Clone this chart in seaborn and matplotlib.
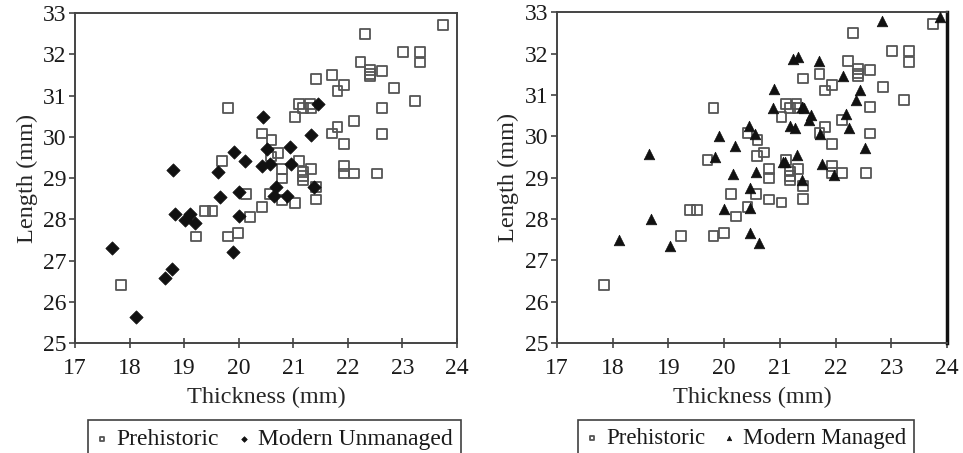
import numpy as np
import pandas as pd
import matplotlib
matplotlib.use("Agg")
import matplotlib.pyplot as plt
import seaborn as sns

# prehistoric samples (same in both panels)
pre_thick = [17.85, 19.22, 19.38, 19.52, 19.70, 19.81, 19.81, 19.99, 20.21, 20.13,
             20.42, 20.42, 20.57, 20.59, 20.60, 20.72, 20.80, 20.80, 20.80, 21.03,
             21.03, 21.11, 21.11, 21.18, 21.30, 21.33, 21.18, 21.18, 21.18, 21.33,
             21.41, 21.41, 21.41, 21.71, 21.71, 21.81, 21.81, 21.93, 21.93, 21.93,
             21.93, 22.11, 22.11, 22.23, 22.31, 22.40, 22.40, 22.40, 22.54, 22.62,
             22.62, 22.62, 22.85, 23.01, 23.23, 23.32, 23.32, 23.75]
pre_len = [26.40, 27.58, 28.21, 28.21, 29.42, 30.69, 27.58, 27.67, 28.06, 28.61,
           28.30, 30.08, 28.61, 29.52, 29.92, 29.61, 29.21, 28.99, 28.47, 28.40,
           30.47, 29.42, 30.79, 30.69, 30.79, 30.69, 29.15, 29.05, 28.95, 29.21,
           28.79, 28.48, 31.40, 31.50, 30.08, 31.11, 30.23, 31.25, 29.82, 29.29,
           29.11, 29.11, 30.39, 31.82, 32.49, 31.62, 31.52, 31.46, 29.11, 31.60,
           30.70, 30.07, 31.19, 32.06, 30.87, 32.06, 31.80, 32.71]

# modern unmanaged
unm_thick = [17.68, 18.12, 18.65, 18.78, 18.79, 18.83, 19.01, 19.11, 19.20, 19.62,
             19.66, 19.90, 19.92, 20.01, 20.01, 20.11, 20.42, 20.44, 20.51, 20.58,
             20.64, 20.69, 20.88, 20.94, 20.95, 21.33, 21.37, 21.46]
unm_len = [27.30, 25.64, 26.57, 26.79, 29.19, 28.13, 27.98, 28.13, 27.92, 29.15,
           28.53, 27.20, 29.64, 28.09, 28.65, 29.42, 29.30, 30.49, 29.70, 29.33,
           28.56, 28.77, 28.57, 29.76, 29.34, 30.05, 28.79, 30.79]

# modern managed
man_thick = [18.12, 18.66, 18.68, 19.02, 19.84, 19.91, 20.00, 20.16, 20.19, 20.44,
             20.46, 20.46, 20.47, 20.56, 20.57, 20.62, 20.89, 20.88, 21.05, 21.10,
             21.19, 21.28, 21.23, 21.33, 21.31, 21.40, 21.44, 21.40, 21.55, 21.52,
             21.71, 21.72, 21.75, 21.97, 22.14, 22.19, 22.24, 22.37, 22.43, 22.53,
             22.83, 23.87]
man_len = [27.50, 29.57, 28.00, 27.34, 29.49, 30.01, 28.25, 29.08, 29.77, 30.25,
           28.27, 27.65, 28.75, 30.05, 29.13, 27.41, 31.15, 30.68, 29.38, 29.38,
           30.25, 30.19, 31.87, 31.91, 29.54, 30.71, 30.68, 28.95, 30.51, 30.40,
           31.83, 30.05, 29.33, 29.06, 31.47, 30.55, 30.19, 30.88, 31.12, 29.71,
           32.80, 32.88]

pre = pd.DataFrame({'thick': pre_thick, 'len': pre_len})
unm = pd.DataFrame({'thick': unm_thick, 'len': unm_len})
man = pd.DataFrame({'thick': man_thick, 'len': man_len})

sns.set_style('ticks')
plt.rcParams['font.family'] = ['Liberation Serif', 'DejaVu Serif']
plt.rcParams['text.color'] = '#1a1a1a'
plt.rcParams['xtick.color'] = '#444444'
plt.rcParams['ytick.color'] = '#444444'
plt.rcParams['xtick.labelcolor'] = '#1a1a1a'
plt.rcParams['ytick.labelcolor'] = '#1a1a1a'

fig = plt.figure(figsize=(9.63, 4.53), dpi=100)
ax1 = fig.add_axes([0.0779, 0.2428, 0.3967, 0.7285])
ax2 = fig.add_axes([0.5784, 0.2428, 0.4050, 0.7300])

for ax, other, mk, lab, ms in [(ax1, unm, 'D', 'Modern Unmanaged', 46),
                               (ax2, man, '^', 'Modern Managed', 58)]:
    sns.scatterplot(data=pre, x='thick', y='len', ax=ax, marker='s', s=50,
                    facecolor='none', edgecolor='#555555', linewidth=1.3,
                    label='Prehistoric', zorder=3)
    sns.scatterplot(data=other, x='thick', y='len', ax=ax, marker=mk, s=ms,
                    color='#111111', edgecolor='#111111', linewidth=0.5,
                    label=lab, zorder=4)
    ax.set_xlim(17, 24)
    ax.set_ylim(25, 33)
    ax.set_xticks(range(17, 25))
    ax.set_yticks(range(25, 34))
    ax.set_xlabel('Thickness (mm)', fontsize=17.5, labelpad=6)
    ax.set_ylabel('Length (mm)', fontsize=17.5, labelpad=4)
    ax.tick_params(axis='x', direction='inout', length=7, width=1.2, labelsize=17, pad=7)
    ax.tick_params(axis='y', direction='out', length=4, width=1.2, labelsize=17, pad=2)
    for sp in ax.spines.values():
        sp.set_visible(True)
        sp.set_color('#444444')
        sp.set_linewidth(1.4)
    ax.legend_.remove()

ax2.spines['right'].set_color('#111111')
ax2.spines['right'].set_linewidth(2.5)

for ax, cx, fs in [(ax1, 0.285, 17), (ax2, 0.775, 16.5)]:
    h, l = ax.get_legend_handles_labels()
    leg = fig.legend(h, l, loc='upper center', bbox_to_anchor=(cx, 0.072),
                     ncol=2, fontsize=fs, frameon=True, fancybox=False,
                     markerscale=0.42, handlelength=0.5, handletextpad=0.35,
                     columnspacing=0.8, borderpad=0.35, borderaxespad=0)
    leg.get_frame().set_edgecolor('#111111')
    leg.get_frame().set_linewidth(1.2)

fig.savefig('out.png', dpi=100, facecolor='white')
